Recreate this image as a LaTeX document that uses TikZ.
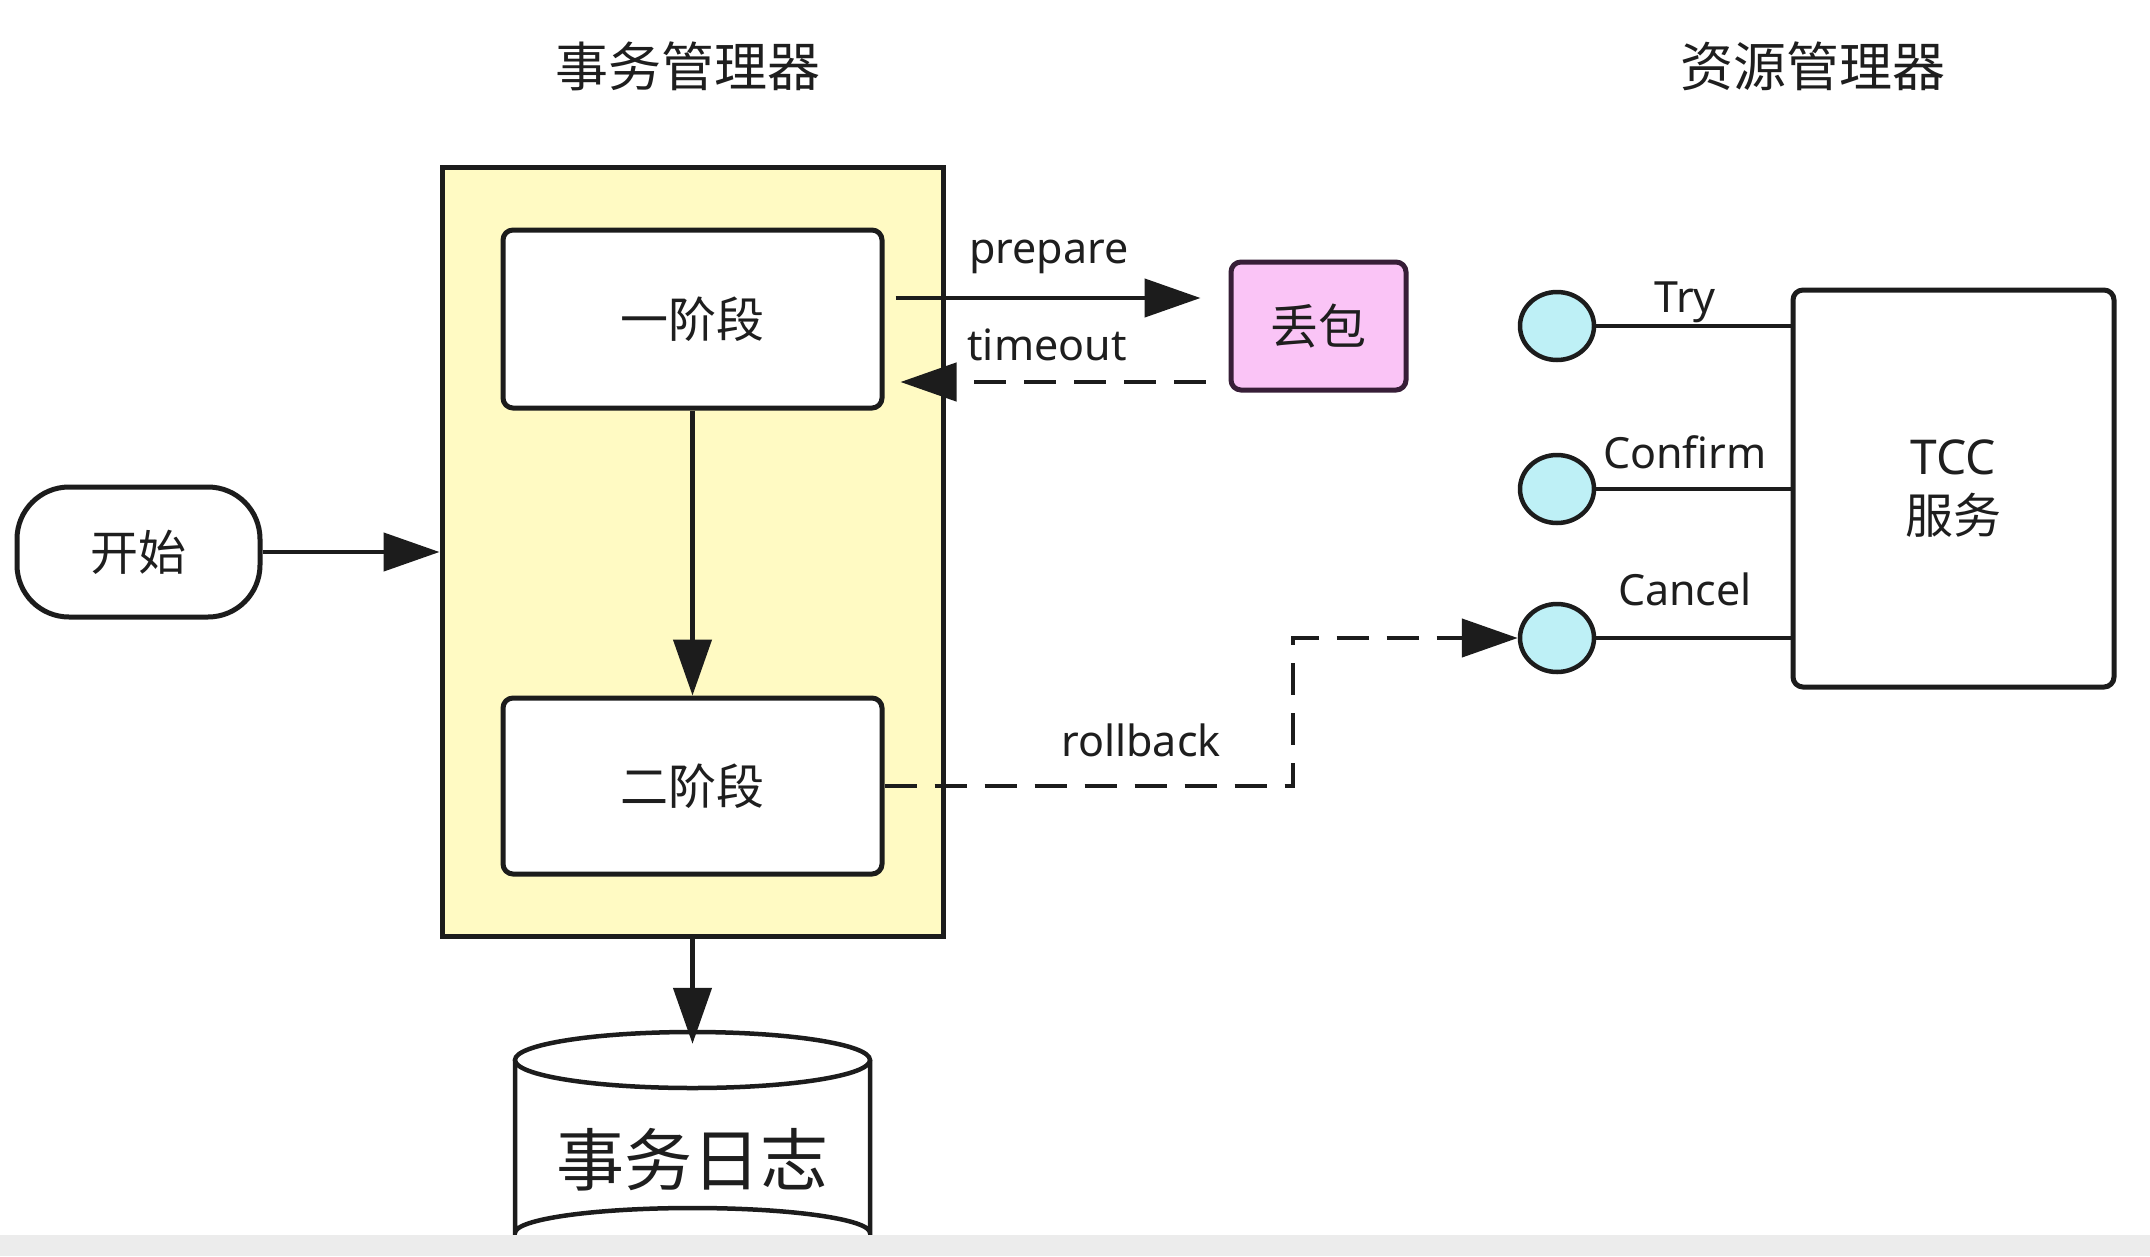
\documentclass[tikz,border=0pt]{standalone}
\usepackage{fontspec}
\setmainfont{Noto Sans}
\newfontfamily\cjk{Noto Sans CJK SC}
\usetikzlibrary{arrows.meta,shapes.geometric}
\definecolor{linec}{RGB}{28,28,28}
\definecolor{textc}{RGB}{30,30,30}
\definecolor{yellowc}{RGB}{255,250,195}
\definecolor{pinkc}{RGB}{250,196,246}
\definecolor{pinkline}{RGB}{55,30,55}
\definecolor{cyanc}{RGB}{190,240,246}
\definecolor{bandc}{RGB}{236,236,236}
\begin{document}
\begin{tikzpicture}[x=1pt,y=-1pt,
  ttl/.style={text=textc, inner sep=0pt, font=\cjk\fontsize{53}{60}\selectfont},
  grpbox/.style={draw=linec, line width=5pt, fill=yellowc, minimum width=501pt, minimum height=769pt, inner sep=0pt},
  stagebox/.style={draw=linec, line width=5pt, fill=white, rounded corners=10pt, minimum width=379pt, inner sep=0pt, text=textc, font=\cjk\fontsize{48}{58}\selectfont},
  startbox/.style={draw=linec, line width=5pt, fill=white, rounded corners=52pt, minimum width=243pt, minimum height=130pt, inner sep=0pt, text=textc, font=\cjk\fontsize{48}{58}\selectfont},
  lossbox/.style={draw=pinkline, line width=5pt, fill=pinkc, rounded corners=10pt, minimum width=175pt, minimum height=128pt, inner sep=0pt, text=textc, font=\cjk\fontsize{48}{58}\selectfont},
  portc/.style={ellipse, draw=linec, line width=4.5pt, fill=cyanc, minimum width=74pt, minimum height=68pt, inner sep=0pt},
  tccbox/.style={draw=linec, line width=5pt, fill=white, rounded corners=10pt, minimum width=321pt, minimum height=397pt, inner sep=0pt, align=center, text=textc, font=\fontsize{48}{59}\selectfont},
  lbl/.style={text=textc, inner sep=0pt, font=\fontsize{43}{50}\selectfont},
  logtext/.style={text=textc, inner sep=0pt, font=\cjk\fontsize{68}{76}\selectfont},
  cyl/.style={draw=linec, line width=4.5pt},
  conn/.style={draw=linec, line width=4.5pt},
  arr/.style={draw=linec, line width=4.5pt, -{Triangle[length=56pt,width=38pt]}},
  dasharr/.style={arr, dash pattern=on 32pt off 18pt}
]
\useasboundingbox (0,0) rectangle (2150,1256);
\fill[white] (0,0) rectangle (2150,1256);

% titles
\node[ttl] (tmtitle) at (688,66) {事务管理器};
\node[ttl] (rmtitle) at (1813,66) {资源管理器};

% transaction manager
\node[grpbox] (tm) at (692.5,551.5) {};
\node[stagebox, minimum height=178pt] (p1) at (692.5,319) {一阶段};
\node[stagebox, minimum height=176pt] (p2) at (692.5,786) {二阶段};
\node[startbox] (start) at (138.5,552) {开始};
\node[lossbox] (loss) at (1318.5,326) {丢包};

% resource manager
\node[portc] (cT) at (1557,326) {};
\node[portc] (cC) at (1557,489) {};
\node[portc] (cX) at (1557,638) {};
\node[tccbox] (tcc) at (1953.5,488.5) {TCC\\{\cjk 服务}};

% log cylinder
\node[inner sep=0pt, minimum width=355pt, minimum height=201pt] (log) at (692.5,1132.5) {};
\draw[cyl, fill=white] (515,1060) -- (515,1233) arc[start angle=180, end angle=360, x radius=177.5, y radius=25] -- (870,1060);
\draw[cyl, fill=white] (692.5,1060) ellipse[x radius=177.5, y radius=28];
\node[logtext] (logtxt) at (692.5,1160) {事务日志};

% connectors
\draw[arr] (start.east) -- (start.east -| tm.west);
\draw[arr] (p1.south) -- (p2.north);
\draw[arr] (tm.south) -- ([yshift=-12pt]log.north);

\coordinate (prepS) at ([shift={(11,-21)}]p1.east);
\coordinate (prepE) at ([shift={(-28,-28)}]loss.west);
\draw[arr] (prepS) -- (prepE);
\coordinate (toS) at ([shift={(-23,56)}]loss.west);
\coordinate (toE) at ([shift={(16,63)}]p1.east);
\draw[dasharr] (toS) -- (toE);

\coordinate (rb) at (1293,786);
\draw[dasharr] (p2.east) -- (rb) |- (cX.west);

\draw[conn] (cT.east) -- (cT.east -| tcc.west);
\draw[conn] (cC.east) -- (cC.east -| tcc.west);
\draw[conn] (cX.east) -- (cX.east -| tcc.west);

% labels
\node[lbl, anchor=base] (lprep) at (1049,263) {prepare};
\node[lbl, anchor=base] (ltime) at (1047,360) {timeout};
\node[lbl, anchor=base] (lroll) at (1141,756) {rollback};
\node[lbl, anchor=base] (ltry) at (1685,312) {Try};
\node[lbl, anchor=base] (lconf) at (1685,468) {Confirm};
\node[lbl, anchor=base] (lcanc) at (1685,605) {Cancel};

% bottom band
\fill[bandc] (0,1235) rectangle (2150,1256);
\end{tikzpicture}
\end{document}
